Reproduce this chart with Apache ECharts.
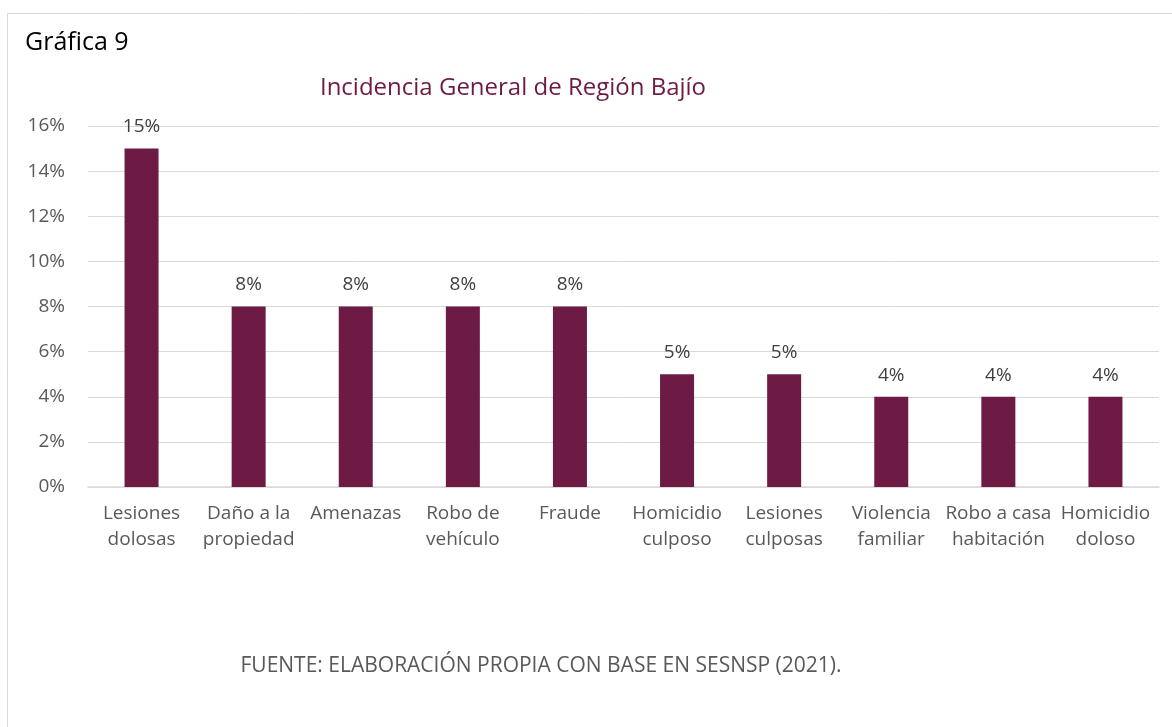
<!DOCTYPE html>
<html><head><meta charset="utf-8">
<script src="https://cdn.jsdelivr.net/npm/echarts@6/dist/echarts.min.js"></script>
<style>html,body{margin:0;padding:0;background:#fff}#c{width:1172px;height:727px}</style>
</head><body><div id="c"></div>
<script>
const categories = ['Lesiones\ndolosas','Daño a la\npropiedad','Amenazas','Robo de\nvehículo','Fraude','Homicidio\nculposo','Lesiones\nculposas','Violencia\nfamiliar','Robo a casa\nhabitación','Homicidio\ndoloso'];
const values = [15, 8, 8, 8, 8, 5, 5, 4, 4, 4];
const yTicks = [0, 2, 4, 6, 8, 10, 12, 14, 16];
const FONT = '"Open Sans", sans-serif';
const chart = echarts.init(document.getElementById('c'));
chart.setOption({
  animation: false,
  backgroundColor: '#fff',
  graphic: [
    {type:'rect', shape:{x:7.5,y:13.5,width:1180,height:730}, style:{fill:'none', stroke:'#d9d9d9', lineWidth:1}},
    {type:'text', x:25, y:43, style:{text:'Gráfica 9', font:'25px '+FONT, fill:'#000', textVerticalAlign:'middle'}},
    {type:'text', x:541, y:666, style:{text:'FUENTE: ELABORACIÓN PROPIA CON BASE EN SESNSP (2021).', font:'21px '+FONT, fill:'#595959', textAlign:'center', textVerticalAlign:'middle'}}
  ],
  title: {
    text: 'Incidencia General de Región Bajío',
    left: 508, top: 71, textAlign: 'center',
    textStyle: {color:'#6d1b45', fontSize:24, fontWeight:'normal', fontFamily:FONT}
  },
  grid: {left:88, right:13, top:126, bottom:240, containLabel:false},
  xAxis: {
    type:'category', data: categories,
    axisLine:{lineStyle:{color:'#d9d9d9', width:1.5}},
    axisTick:{show:false},
    axisLabel:{color:'#595959', fontSize:19, fontFamily:FONT, lineHeight:26, margin:14, interval:0}
  },
  yAxis: {
    type:'value', min:0, max:16, interval:2,
    axisLine:{show:false}, axisTick:{show:false},
    splitLine:{lineStyle:{color:'#d9d9d9', width:1}},
    axisLabel:{color:'#595959', fontSize:19, fontFamily:FONT, margin:23, formatter: v => yTicks.includes(v) ? v + '%' : ''}
  },
  series: [{
    type:'bar', data: values, barWidth: 34,
    itemStyle:{color:'#6d1b45'},
    label:{show:true, position:'top', distance:12, color:'#404040', fontSize:19, fontFamily:FONT, formatter:'{c}%'}
  }]
});
</script></body></html>
